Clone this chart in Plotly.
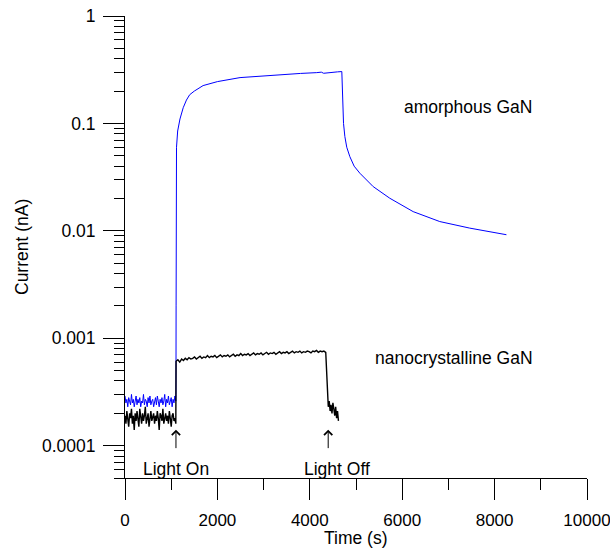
import plotly.graph_objects as go
import math

# ---------------- data ----------------
# amorphous GaN: dark baseline (sampled every 20 s from 0 s), current in nA
amor_dark_step = 20
amor_dark_current = [
    2.9e-4, 2.5e-4, 2.7e-4, 2.3e-4, 2.8e-4, 2.6e-4, 2.4e-4, 3.0e-4, 2.5e-4, 2.7e-4,
    2.3e-4, 2.6e-4, 2.9e-4, 2.4e-4, 2.7e-4, 2.5e-4, 2.8e-4, 2.3e-4, 2.6e-4, 2.5e-4,
    3.0e-4, 2.4e-4, 2.7e-4, 2.6e-4, 2.3e-4, 2.8e-4, 2.5e-4, 2.9e-4, 2.4e-4, 2.6e-4,
    2.7e-4, 2.3e-4, 2.5e-4, 2.8e-4, 2.4e-4, 2.9e-4, 2.6e-4, 2.3e-4, 2.7e-4, 2.5e-4,
    2.8e-4, 2.4e-4, 2.6e-4, 3.0e-4, 2.3e-4, 2.7e-4, 2.5e-4, 2.9e-4, 2.4e-4, 2.6e-4,
    2.8e-4, 2.3e-4, 2.7e-4, 2.5e-4, 2.9e-4, 2.6e-4,
]
# amorphous GaN: light on / light off response
amor_time = [1103, 1106, 1109, 1115, 1140, 1190, 1260, 1330, 1400, 1500, 1690, 2000,
             2490, 3000, 3420, 3800, 4150, 4250, 4300, 4380, 4450, 4600, 4693,
             4700, 4708, 4730, 4759, 4800, 4867, 4960, 5083, 5372, 5732, 6237,
             6813, 7462, 8256]
amor_current = [0.0003, 0.002, 0.03, 0.06, 0.085, 0.11, 0.14, 0.165, 0.185, 0.2, 0.225, 0.245,
                0.267, 0.278, 0.287, 0.292, 0.297, 0.3, 0.293, 0.296, 0.301, 0.302, 0.304,
                0.25, 0.134, 0.1, 0.0754, 0.06, 0.049, 0.04, 0.0344, 0.0258, 0.0201, 0.0151,
                0.0122, 0.0106, 0.0092]

# nanocrystalline GaN: dark baseline (every 20 s from 0 s)
nano_dark_step = 20
nano_dark_current = [
    1.9e-4, 1.6e-4, 2.1e-4, 1.7e-4, 1.5e-4, 2.0e-4, 1.8e-4, 2.2e-4, 1.6e-4, 1.9e-4,
    1.4e-4, 2.0e-4, 1.7e-4, 2.1e-4, 1.8e-4, 1.5e-4, 2.2e-4, 1.9e-4, 1.6e-4, 2.0e-4,
    1.7e-4, 1.9e-4, 2.3e-4, 1.6e-4, 1.8e-4, 2.0e-4, 1.5e-4, 1.9e-4, 2.1e-4, 1.7e-4,
    1.8e-4, 2.0e-4, 1.6e-4, 1.9e-4, 1.7e-4, 2.1e-4, 1.8e-4, 1.4e-4, 2.0e-4, 1.9e-4,
    1.7e-4, 2.2e-4, 1.6e-4, 1.8e-4, 2.0e-4, 1.7e-4, 1.9e-4, 1.6e-4, 2.1e-4, 1.8e-4,
    1.5e-4, 1.9e-4, 2.0e-4, 1.7e-4, 1.8e-4, 1.6e-4,
]
# nanocrystalline GaN: illuminated plateau (every 40 s from 1105 s)
nano_on_start = 1105
nano_on_step = 40
nano_on_current = [
    6.1e-4, 6.3e-4, 6.0e-4, 6.4e-4, 6.2e-4, 6.5e-4, 6.3e-4, 6.6e-4, 6.4e-4, 6.5e-4,
    6.7e-4, 6.4e-4, 6.6e-4, 6.8e-4, 6.5e-4, 6.7e-4, 6.6e-4, 6.9e-4, 6.6e-4, 6.8e-4,
    6.7e-4, 6.9e-4, 6.6e-4, 6.8e-4, 7.0e-4, 6.7e-4, 6.9e-4, 6.8e-4, 7.0e-4, 6.7e-4,
    6.9e-4, 7.1e-4, 6.8e-4, 7.0e-4, 6.9e-4, 7.2e-4, 6.9e-4, 7.1e-4, 7.0e-4, 7.2e-4,
    6.9e-4, 7.1e-4, 7.3e-4, 7.0e-4, 7.2e-4, 7.1e-4, 7.3e-4, 7.0e-4, 7.2e-4, 7.4e-4,
    7.1e-4, 7.3e-4, 7.2e-4, 7.4e-4, 7.1e-4, 7.3e-4, 7.5e-4, 7.2e-4, 7.4e-4, 7.3e-4,
    7.5e-4, 7.2e-4, 7.4e-4, 7.6e-4, 7.3e-4, 7.5e-4, 7.4e-4, 7.6e-4, 7.3e-4, 7.5e-4,
    7.4e-4, 7.6e-4, 7.5e-4, 7.3e-4, 7.6e-4, 7.5e-4, 7.7e-4, 7.4e-4, 7.6e-4, 7.5e-4,
    7.6e-4, 7.4e-4,
]
# nanocrystalline GaN: after light off (every 20 s from 4400 s)
nano_off_start = 4400
nano_off_step = 20
nano_off_current = [2.3e-4, 2.6e-4, 2.1e-4, 2.4e-4, 2.0e-4, 2.5e-4, 2.2e-4, 1.9e-4,
                    2.3e-4, 1.8e-4, 2.1e-4, 1.7e-4]

# annotation content
series_labels = ["amorphous GaN", "nanocrystalline GaN"]
series_label_pos = [(5985, 0.143), (5364, 0.000655)]   # (time, current) at label left/middle
event_labels = ["Light On", "Light Off"]
event_times = [1103, 4398]
event_label_centers = [1103, 4585]
event_label_current = 6.1e-5
arrow_tip_current = 1.41e-4

y_tick_values = [1e-4, 1e-3, 1e-2, 1e-1, 1]
y_tick_labels = ["0.0001", "0.001", "0.01", "0.1", "1"]

# ---------------- build series ----------------
amor_t = [i * amor_dark_step for i in range(len(amor_dark_current))] + amor_time
amor_i = amor_dark_current + amor_current

nano_t = ([i * nano_dark_step for i in range(len(nano_dark_current))]
          + [nano_on_start + i * nano_on_step for i in range(len(nano_on_current))]
          + [nano_off_start + i * nano_off_step for i in range(len(nano_off_current))])
nano_i = nano_dark_current + nano_on_current + nano_off_current

FONT = "Liberation Sans, Arial, sans-serif"
FS = 17.5

fig = go.Figure()
fig.add_trace(go.Scatter(x=amor_t, y=amor_i, mode="lines",
                         line=dict(color="#0000ff", width=1), showlegend=False))
fig.add_trace(go.Scatter(x=nano_t, y=nano_i, mode="lines",
                         line=dict(color="#000000", width=1.4), showlegend=False))

annotations = []
for lab, (tx, cy) in zip(series_labels, series_label_pos):
    annotations.append(dict(x=tx, y=math.log10(cy), xref="x", yref="y", text=lab,
                            showarrow=False, xanchor="left", yanchor="middle",
                            font=dict(size=FS, color="#000")))
for lab, cx in zip(event_labels, event_label_centers):
    annotations.append(dict(x=cx, y=math.log10(event_label_current), xref="x", yref="y",
                            text=lab, showarrow=False, xanchor="center", yanchor="middle",
                            font=dict(size=FS, color="#000")))
for et in event_times:
    annotations.append(dict(x=et, y=math.log10(arrow_tip_current), xref="x", yref="y",
                            text="", showarrow=True, ax=0, ay=20, arrowhead=4,
                            arrowsize=1.6, arrowwidth=1, arrowcolor="#000", standoff=0))
annotations.append(dict(x=0.5, y=0, xref="paper", yref="paper", text="Time (s)",
                        showarrow=False, xanchor="center", yanchor="middle", yshift=-60,
                        font=dict(size=FS, color="#000")))
annotations.append(dict(x=0, y=0.5, xref="paper", yref="paper", text="Current (nA)",
                        showarrow=False, xanchor="center", yanchor="middle", xshift=-103,
                        textangle=-90, font=dict(size=FS, color="#000")))

fig.update_layout(
    width=610, height=548,
    margin=dict(l=125, r=23, t=16, b=70, autoexpand=False),
    paper_bgcolor="white", plot_bgcolor="white",
    font=dict(family=FONT, size=FS, color="#000"),
    annotations=annotations,
    showlegend=False,
)
fig.update_xaxes(range=[0, 10000], dtick=2000, tick0=0, tickformat="d", automargin=False,
                 ticks="outside", ticklen=21, ticklabeloverflow="allow",
                 tickfont=dict(size=17),
                 tickwidth=1, tickcolor="#000", showline=True, linecolor="#000", linewidth=1,
                 showgrid=False, zeroline=False, ticklabelstandoff=6,
                 minor=dict(dtick=1000, tick0=0, ticks="outside", ticklen=11,
                            tickwidth=1, tickcolor="#000", showgrid=False))
fig.update_yaxes(type="log", range=[math.log10(5e-5), 0], tickvals=y_tick_values,
                 ticktext=y_tick_labels, automargin=False, ticklabeloverflow="allow",
                 ticks="outside", ticklen=21, tickwidth=1,
                 tickcolor="#000", showline=True, linecolor="#000", linewidth=1,
                 showgrid=False, zeroline=False, ticklabelstandoff=4,
                 minor=dict(dtick="D1", ticks="outside", ticklen=10, tickwidth=1,
                            tickcolor="#000", showgrid=False))

# remove the browser's default 8px body margin so the 610x548 figure fills the window
fig.write_html("out.html",
               config={"displayModeBar": False},
               post_script="document.body.style.margin='0';"
                           "document.body.style.overflow='hidden';")
